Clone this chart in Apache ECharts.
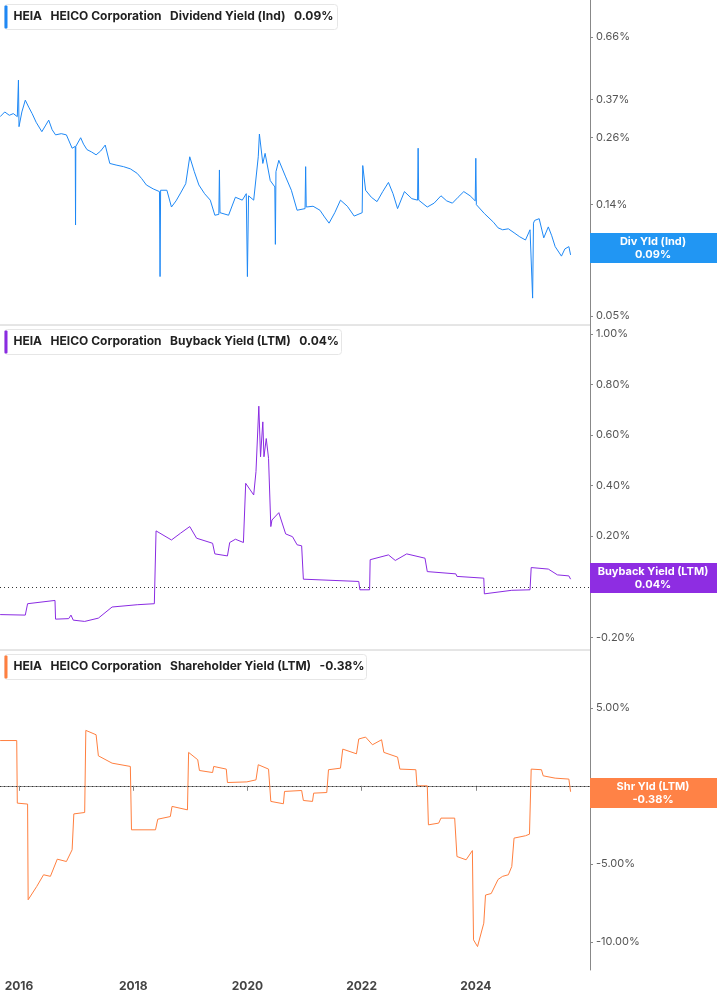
<!DOCTYPE html>
<html><head><meta charset="utf-8">
<script src="https://cdn.jsdelivr.net/npm/echarts@6/dist/echarts.min.js"></script>
<style>html,body{margin:0;padding:0;background:#fff}#c{width:717px;height:1005px}</style>
</head><body><div id="c"></div>
<script>
const yearTicks = [2016, 2018, 2020, 2022, 2024];
const divTicks = [0.05, 0.10, 0.14, 0.26, 0.37, 0.66];
const buyTicks = [-0.2, 0, 0.2, 0.4, 0.6, 0.8, 1.0];
const shrTicks = [-10, -5, 0, 5];
// [year, %]
const divYield = [[2015.67,0.316],[2015.75,0.33],[2015.83,0.32],[2015.9,0.325],[2015.97,0.316],[2015.99,0.443],[2016.0,0.288],[2016.05,0.33],[2016.11,0.368],[2016.17,0.345],[2016.23,0.325],[2016.3,0.30],[2016.40,0.275],[2016.46,0.29],[2016.52,0.306],[2016.58,0.28],[2016.64,0.267],[2016.74,0.27],[2016.83,0.267],[2016.93,0.236],[2016.985,0.24],[2016.99,0.116],[2016.995,0.24],[2017.08,0.26],[2017.13,0.245],[2017.19,0.233],[2017.27,0.228],[2017.35,0.222],[2017.43,0.23],[2017.51,0.243],[2017.59,0.205],[2017.7,0.202],[2017.83,0.199],[2017.95,0.195],[2018.07,0.187],[2018.15,0.178],[2018.23,0.168],[2018.35,0.162],[2018.46,0.158],[2018.47,0.072],[2018.48,0.16],[2018.59,0.16],[2018.67,0.137],[2018.75,0.145],[2018.83,0.156],[2018.92,0.17],[2018.99,0.218],[2019.07,0.19],[2019.15,0.168],[2019.25,0.155],[2019.35,0.146],[2019.43,0.127],[2019.5,0.128],[2019.51,0.193],[2019.52,0.13],[2019.67,0.127],[2019.79,0.150],[2019.91,0.146],[2019.98,0.155],[2020.0,0.072],[2020.02,0.152],[2020.11,0.146],[2020.19,0.218],[2020.21,0.269],[2020.27,0.205],[2020.31,0.225],[2020.4,0.175],[2020.48,0.165],[2020.49,0.097],[2020.5,0.19],[2020.55,0.211],[2020.67,0.181],[2020.77,0.16],[2020.87,0.133],[2021.01,0.135],[2021.02,0.199],[2021.03,0.137],[2021.15,0.138],[2021.27,0.133],[2021.35,0.125],[2021.43,0.118],[2021.53,0.13],[2021.63,0.146],[2021.75,0.138],[2021.87,0.126],[2022.01,0.13],[2022.02,0.201],[2022.07,0.160],[2022.17,0.15],[2022.27,0.144],[2022.37,0.158],[2022.47,0.172],[2022.55,0.155],[2022.63,0.135],[2022.75,0.158],[2022.88,0.148],[2022.98,0.146],[2022.99,0.236],[2023.0,0.146],[2023.15,0.137],[2023.27,0.142],[2023.39,0.152],[2023.49,0.145],[2023.59,0.142],[2023.69,0.15],[2023.79,0.158],[2023.9,0.152],[2023.99,0.145],[2024.0,0.215],[2024.01,0.14],[2024.15,0.129],[2024.31,0.119],[2024.39,0.113],[2024.47,0.111],[2024.57,0.112],[2024.67,0.108],[2024.77,0.104],[2024.87,0.101],[2024.95,0.111],[2024.995,0.059],[2025.01,0.118],[2025.03,0.121],[2025.11,0.123],[2025.19,0.103],[2025.27,0.114],[2025.33,0.105],[2025.39,0.095],[2025.50,0.087],[2025.56,0.093],[2025.63,0.095],[2025.66,0.088]];
const buybackYield = [[2015.67,-0.110],[2016.11,-0.112],[2016.15,-0.067],[2016.63,-0.054],[2016.64,-0.128],[2016.87,-0.126],[2016.91,-0.112],[2016.95,-0.132],[2017.15,-0.137],[2017.39,-0.124],[2017.63,-0.080],[2018.07,-0.071],[2018.37,-0.067],[2018.40,0.221],[2018.67,0.185],[2018.83,0.212],[2018.99,0.238],[2019.11,0.192],[2019.39,0.172],[2019.43,0.130],[2019.65,0.122],[2019.69,0.175],[2019.79,0.188],[2019.93,0.175],[2019.97,0.409],[2020.11,0.363],[2020.15,0.455],[2020.20,0.714],[2020.23,0.514],[2020.27,0.652],[2020.29,0.514],[2020.33,0.586],[2020.37,0.508],[2020.41,0.238],[2020.43,0.264],[2020.55,0.293],[2020.67,0.209],[2020.79,0.198],[2020.87,0.166],[2020.95,0.162],[2020.98,0.030],[2021.95,0.021],[2021.97,-0.012],[2022.14,-0.012],[2022.15,0.107],[2022.47,0.126],[2022.59,0.104],[2022.79,0.130],[2023.11,0.113],[2023.15,0.060],[2023.65,0.051],[2023.67,0.041],[2024.14,0.034],[2024.15,-0.028],[2024.63,-0.014],[2024.95,-0.012],[2024.97,0.076],[2025.27,0.070],[2025.43,0.047],[2025.63,0.043],[2025.66,0.03]];
const shareholderYield = [[2015.67,2.9],[2015.96,2.9],[2015.97,-1.11],[2016.15,-1.17],[2016.16,-7.3],[2016.31,-6.45],[2016.43,-5.7],[2016.55,-5.8],[2016.67,-4.7],[2016.83,-4.85],[2016.93,-4.1],[2016.96,-1.8],[2017.15,-1.71],[2017.17,3.55],[2017.35,3.27],[2017.39,1.92],[2017.63,1.45],[2017.95,1.24],[2017.97,-2.82],[2018.39,-2.82],[2018.43,-2.14],[2018.65,-1.97],[2018.68,-1.32],[2018.95,-1.54],[2018.97,2.14],[2019.13,1.67],[2019.16,0.98],[2019.39,0.85],[2019.41,1.24],[2019.63,1.07],[2019.65,0.21],[2019.99,0.25],[2020.15,0.38],[2020.19,1.35],[2020.37,1.07],[2020.41,-1.0],[2020.63,-1.15],[2020.65,-0.36],[2020.95,-0.30],[2020.98,-0.94],[2021.14,-1.0],[2021.16,-0.47],[2021.39,-0.43],[2021.42,1.03],[2021.63,1.13],[2021.67,2.35],[2021.91,2.05],[2021.95,3.0],[2022.07,3.12],[2022.19,2.63],[2022.35,2.95],[2022.39,2.14],[2022.63,1.84],[2022.67,1.07],[2022.95,1.03],[2022.97,0],[2023.15,0],[2023.17,-2.5],[2023.35,-2.39],[2023.39,-2.07],[2023.63,-2.07],[2023.67,-4.53],[2023.83,-4.74],[2023.94,-4.15],[2023.96,-9.87],[2024.03,-10.3],[2024.14,-8.8],[2024.17,-7.0],[2024.27,-6.9],[2024.39,-6.0],[2024.47,-5.8],[2024.57,-5.7],[2024.63,-5.17],[2024.67,-3.35],[2024.87,-3.2],[2024.94,-3.1],[2024.97,1.07],[2025.15,1.03],[2025.18,0.64],[2025.39,0.49],[2025.63,0.43],[2025.66,-0.38]];

const FONT = 'Inter, "Noto Sans", sans-serif';
const chart = echarts.init(document.getElementById('c'));
const xMin = 2015.667, xMax = 2026.0;
function xAx(i, show){
  return {type:'value', gridIndex:i, min:xMin, max:xMax, splitLine:{show:false},
    axisLine:{show:show, lineStyle:{color:'#888'}},
    axisTick:{show:show, customValues:yearTicks, length:5, lineStyle:{color:'#888'}},
    axisLabel:{show:show, customValues:yearTicks, formatter:v=>String(v), color:'#444', fontFamily:FONT, fontSize:12, fontWeight:'bold', margin:10}};
}
function yAx(i, min, max, ticks, fmt){
  return {type:'value', gridIndex:i, position:'right', min:min, max:max, splitLine:{show:false},
    axisLine:{show:true, lineStyle:{color:'#888'}},
    axisTick:{show:true, customValues:ticks, length:3, lineStyle:{color:'#888'}},
    axisLabel:{customValues:ticks, formatter:fmt, color:'#555', fontFamily:FONT, fontSize:11, margin:6}};
}
const lg = Math.log10;
const zeroLine = {silent:true, symbol:'none', label:{show:false}, lineStyle:{color:'#333', type:[1,3], width:1}, data:[{yAxis:0}]};
function header(y, color, text, w){
  return {type:'group', left:4, top:y, z:100, children:[
    {type:'rect', z:100, shape:{x:0,y:0,width:w,height:25,r:3}, style:{fill:'#fff', stroke:'#e6e6e6', lineWidth:1}},
    {type:'rect', z:101, shape:{x:0,y:1,width:3,height:23,r:1}, style:{fill:color}},
    {type:'text', z:101, x:9, y:6, style:{text:text, font:'bold 12px '+FONT, fill:'#222'}}]};
}
function badge(y, color, a, b){
  return {type:'group', left:590, top:y, z:100, children:[
    {type:'rect', z:100, shape:{x:0,y:0,width:127,height:30}, style:{fill:color}},
    {type:'text', z:101, x:63, y:2, style:{text:a+'\n'+b, font:'bold 11px '+FONT, fill:'#fff', align:'center', lineHeight:13}}]};
}
chart.setOption({
  animation:false,
  grid:[{left:0,right:127,top:0,height:325},{left:0,right:127,top:325,height:325},{left:0,right:127,top:650,height:320}],
  xAxis:[xAx(0,false),xAx(1,false),xAx(2,true)],
  yAxis:[
    yAx(0, lg(0.66)-288/249, lg(0.66)+37/249, divTicks.map(lg), v=>Math.pow(10,v).toFixed(2)+'%'),
    yAx(1, -0.25, 1.035, buyTicks, v=>v.toFixed(2)+'%'),
    yAx(2, -11.8, 8.7, shrTicks, v=>v.toFixed(2)+'%')],
  series:[
    {type:'line', xAxisIndex:0, yAxisIndex:0, showSymbol:false, data:divYield.map(d=>[d[0], lg(d[1])]), lineStyle:{color:'#1e88f5', width:1}},
    {type:'line', xAxisIndex:1, yAxisIndex:1, showSymbol:false, data:buybackYield, lineStyle:{color:'#8a2be2', width:1}, markLine:zeroLine},
    {type:'line', xAxisIndex:2, yAxisIndex:2, showSymbol:false, data:shareholderYield, lineStyle:{color:'#ff7f3f', width:1}, markLine:zeroLine}],
  graphic:[
    {type:'line', shape:{x1:0,y1:325,x2:590,y2:325}, style:{stroke:'#ccc'}},
    {type:'line', shape:{x1:0,y1:650,x2:590,y2:650}, style:{stroke:'#ccc'}},
    header(4,'#1e88f5','HEIA   HEICO Corporation   Dividend Yield (Ind)   0.09%',333),
    header(329,'#8a2be2','HEIA   HEICO Corporation   Buyback Yield (LTM)   0.04%',337),
    header(654,'#ff7f3f','HEIA   HEICO Corporation   Shareholder Yield (LTM)   -0.38%',362),
    badge(233,'#2196f3','Div Yld (Ind)','0.09%'),
    badge(563,'#8e2de2','Buyback Yield (LTM)','0.04%'),
    badge(778,'#ff8246','Shr Yld (LTM)','-0.38%')]
});
</script></body></html>
